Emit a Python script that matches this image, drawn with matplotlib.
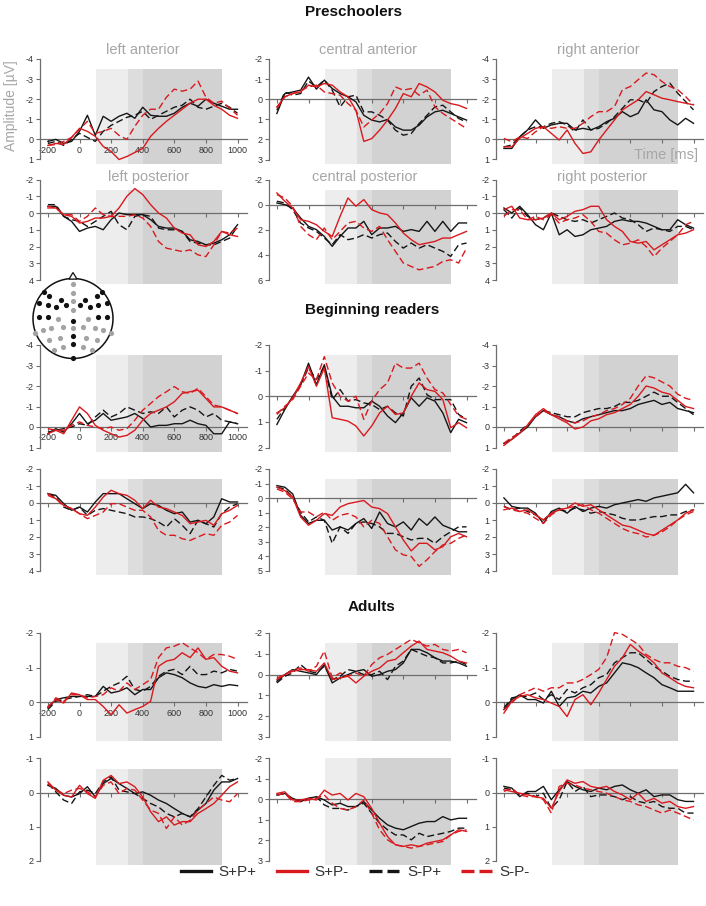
import matplotlib
matplotlib.use('Agg')
import matplotlib.pyplot as plt
from matplotlib.lines import Line2D
from matplotlib.patches import Circle, Polygon

plt.rcParams['font.family'] = ['Liberation Sans', 'DejaVu Sans']
plt.rcParams['axes.unicode_minus'] = False

# ---------------- data ----------------
time_ms = [-200, -150, -100, -50, 0, 50, 100, 150, 200, 250, 300, 350, 400,
           450, 500, 550, 600, 650, 700, 750, 800, 850, 900, 950, 1000]
conditions = ['S+P+', 'S+P-', 'S-P+', 'S-P-']
groups = ['Preschoolers', 'Beginning readers', 'Adults']
regions = ['left anterior', 'central anterior', 'right anterior',
           'left posterior', 'central posterior', 'right posterior']
x_tick_vals = [-200, 0, 200, 400, 600, 800, 1000]
window_ms = [105, 305, 400, 903]

# Preschoolers
pre_left_ant = {
    'S+P+': [0.1, 0.0, 0.2, 0.1, -0.4, -1.2, -0.2, -1.15, -0.9, -1.15, -1.3, -1.05, -1.6, -1.2, -1.15, -1.15, -1.3, -1.6, -1.8, -1.65, -2.0, -1.8, -1.65, -1.5, -1.5],
    'S+P-': [0.3, 0.2, 0.25, -0.1, -0.55, -0.4, -0.15, 0.35, 0.6, 1.0, 0.85, 0.65, 0.45, -0.15, -0.55, -0.9, -1.2, -1.5, -1.8, -2.0, -2.0, -1.7, -1.5, -1.2, -1.05],
    'S-P+': [0.2, 0.1, 0.3, 0.0, -0.3, -0.1, 0.1, -0.4, -0.7, -0.9, -1.1, -1.2, -1.4, -1.0, -1.2, -1.4, -1.6, -1.7, -2.0, -1.6, -1.5, -1.65, -1.8, -1.6, -1.3],
    'S-P-': [0.3, 0.25, 0.1, -0.1, -0.5, -0.9, -0.3, -0.4, -0.55, -0.2, 0.0, -0.65, -1.2, -1.5, -1.5, -2.1, -2.5, -2.4, -2.5, -2.9, -2.1, -1.8, -1.9, -1.55, -1.2],
}
pre_central_ant = {
    'S+P+': [0.71, -0.28, -0.36, -0.45, -1.1, -0.5, -0.95, -0.53, -0.28, -0.12, 0.13, 0.8, 1.04, 1.13, 1.01, 1.38, 1.54, 1.54, 1.29, 0.88, 0.63, 0.55, 0.71, 0.88, 1.04],
    'S+P-': [0.38, -0.12, -0.28, -0.36, -0.7, -0.61, -0.78, -0.7, -0.36, -0.12, 0.55, 2.1, 1.96, 1.54, 1.04, 0.46, -0.28, -0.12, -0.78, -0.61, -0.36, 0.05, 0.22, 0.3, 0.46],
    'S-P+': [0.55, -0.36, -0.2, -0.28, -0.9, -0.61, -0.95, -0.45, 0.38, -0.12, -0.2, 0.63, 0.63, 0.8, 1.04, 1.54, 1.79, 1.71, 1.21, 0.8, 0.38, 0.3, 0.63, 0.96, 1.13],
    'S-P-': [0.46, -0.12, -0.28, -0.45, -0.61, -0.7, -0.36, -0.28, -0.2, 0.22, 0.55, 1.38, 1.04, 0.71, 0.22, -0.61, -0.45, -0.53, -0.2, -0.45, 0.38, 0.71, 0.96, 1.21, 1.46],
}
pre_right_ant = {
    'S+P+': [0.45, 0.45, -0.13, -0.47, -0.97, -0.55, -0.72, -0.8, -0.8, -0.47, -0.55, -0.47, -0.63, -0.88, -1.05, -1.38, -1.13, -1.3, -1.97, -1.47, -1.38, -0.97, -0.72, -1.05, -0.8],
    'S+P-': [0.37, 0.37, -0.05, -0.3, -0.55, -0.63, -0.3, 0.03, -0.47, 0.2, 0.7, 0.62, 0.03, -0.47, -0.97, -1.47, -1.72, -1.97, -2.38, -2.22, -2.05, -1.97, -1.88, -1.8, -1.72],
    'S-P+': [0.37, 0.28, -0.13, -0.47, -0.63, -0.63, -0.8, -0.88, -0.72, -0.38, -0.97, -0.47, -0.55, -0.8, -1.13, -1.55, -1.97, -1.97, -1.8, -2.38, -2.63, -2.8, -2.3, -1.88, -1.47],
    'S-P-': [-0.05, 0.12, -0.13, -0.05, -0.38, -0.63, -0.55, -0.63, -0.55, -0.55, -0.8, -1.13, -1.38, -1.38, -1.63, -2.47, -2.63, -2.97, -3.3, -3.22, -2.88, -2.63, -2.47, -2.13, -1.72],
}
pre_left_post = {
    'S+P+': [-0.4, -0.4, 0.2, 0.5, 1.1, 0.9, 0.8, 1.0, 0.4, 0.0, 0.1, 0.1, 0.1, 0.4, 0.8, 0.9, 0.9, 1.1, 1.6, 1.7, 1.9, 1.8, 1.6, 1.3, 0.7],
    'S+P-': [-0.3, -0.3, 0.1, 0.2, 0.6, 0.5, 0.3, 0.3, 0.2, -0.3, -1.0, -1.46, -1.1, -0.5, 0.0, 0.3, 0.9, 1.2, 1.3, 1.9, 2.0, 1.7, 1.1, 1.3, 1.4],
    'S-P+': [-0.5, -0.5, 0.2, 0.4, 0.5, 0.8, 0.5, 0.2, -0.1, 0.7, 1.0, 0.2, 0.1, 0.2, 0.9, 1.0, 1.0, 1.1, 1.7, 1.8, 1.9, 1.9, 1.7, 1.5, 0.8],
    'S-P-': [-0.4, -0.3, 0.1, 0.1, 0.5, 0.2, -0.3, 0.1, 0.2, 0.2, 0.2, 0.1, 0.3, 0.8, 1.7, 2.1, 2.2, 2.3, 2.2, 2.5, 2.6, 1.9, 1.1, 1.2, 0.9],
}
pre_central_post = {
    'S+P+': [-0.13, 0.0, 0.27, 1.06, 1.73, 1.99, 2.53, 3.32, 2.53, 1.86, 1.86, 1.33, 2.39, 1.86, 1.86, 1.73, 2.13, 1.99, 2.13, 1.33, 2.13, 1.33, 2.13, 1.46, 1.46],
    'S+P-': [-0.93, -0.27, 0.27, 1.2, 1.33, 1.6, 2.13, 2.53, 0.93, -0.53, 0.13, -0.4, 0.4, 0.66, 0.8, 1.46, 2.26, 2.79, 3.19, 3.06, 2.93, 2.66, 2.66, 2.39, 2.13],
    'S-P+': [-0.27, -0.13, 0.4, 1.46, 1.86, 2.13, 2.66, 3.19, 2.39, 2.79, 2.66, 2.39, 2.66, 2.39, 2.26, 2.93, 3.46, 3.06, 3.46, 3.19, 3.46, 3.72, 4.12, 3.19, 3.06],
    'S-P-': [-0.8, -0.53, 0.13, 1.73, 2.39, 2.79, 1.86, 2.79, 2.13, 1.46, 1.33, 1.86, 2.13, 1.73, 2.79, 3.72, 4.65, 4.92, 5.19, 5.05, 4.92, 4.52, 4.39, 4.65, 3.46],
}
pre_right_post = {
    'S+P+': [-0.3, 0.0, -0.4, 0.1, 0.7, 1.0, 0.0, 1.3, 1.0, 1.4, 1.3, 1.0, 0.9, 0.8, 0.5, 0.4, 0.5, 0.5, 0.6, 0.8, 1.0, 1.0, 0.4, 0.7, 0.9],
    'S+P-': [-0.2, -0.4, 0.3, 0.4, 0.4, 0.3, 0.0, 0.4, 0.2, -0.1, -0.2, -0.4, -0.4, 0.4, 0.8, 1.1, 1.7, 1.8, 1.7, 2.2, 1.9, 1.6, 1.3, 1.2, 1.0],
    'S-P+': [-0.2, 0.3, -0.3, 0.2, 0.4, 0.3, 0.0, 0.2, 0.4, 0.5, 0.4, 0.6, 0.4, 0.2, 0.0, 0.3, 0.4, 0.7, 1.1, 0.9, 1.0, 1.1, 0.8, 0.8, 1.0],
    'S-P-': [0.2, -0.2, -0.2, 0.4, 0.2, 0.4, 0.1, 0.6, 0.4, 0.3, 0.1, 0.5, 1.1, 1.2, 1.6, 1.9, 1.8, 1.6, 2.0, 2.6, 2.1, 1.7, 1.3, 0.7, 0.5],
}

# Beginning readers
beg_left_ant = {
    'S+P+': [0.33, 0.08, 0.25, -0.16, -0.66, -0.16, -0.33, -0.66, -0.33, -0.41, -0.49, -0.66, -0.41, 0.0, -0.08, -0.08, -0.16, -0.16, -0.33, -0.16, -0.08, 0.33, 0.33, -0.25, -0.16],
    'S+P-': [0.33, 0.16, 0.33, -0.33, -0.98, -0.66, -0.08, 0.16, 0.33, 0.49, 0.41, 0.16, -0.33, -0.66, -0.82, -0.98, -1.23, -1.64, -1.72, -1.8, -1.39, -0.98, -0.98, -0.82, -0.66],
    'S-P+': [0.25, 0.16, 0.08, 0.0, -0.16, -0.08, -0.49, -0.82, -0.49, -0.66, -0.98, -0.82, -0.66, -0.74, -0.66, -0.98, -0.49, -0.82, -0.98, -0.82, -0.49, -0.66, -0.33, -0.25, -0.16],
    'S-P-': [0.08, 0.16, 0.16, -0.08, -0.25, -0.08, 0.0, 0.08, 0.0, 0.16, 0.08, -0.33, -0.82, -1.15, -1.48, -1.72, -1.97, -1.72, -1.64, -1.89, -1.48, -1.07, -0.98, -0.82, -0.66],
}
beg_central_ant = {
    'S+P+': [1.1, 0.52, 0.0, -0.45, -1.29, -0.45, -1.23, 0.0, 0.39, 0.39, 0.45, 0.45, 0.19, 0.39, 0.77, 1.03, 0.65, 0.06, 0.39, 0.06, 0.19, 0.65, 1.42, 0.9, 1.03],
    'S+P-': [0.65, 0.45, 0.06, -0.52, -1.16, -0.39, -1.1, 0.84, 0.9, 0.97, 1.16, 1.55, 1.16, 0.65, 0.39, 0.71, 0.65, 0.0, -0.52, -0.26, -0.19, 0.13, 1.23, 1.03, 1.23],
    'S-P+': [0.9, 0.45, 0.06, -0.45, -1.1, -0.65, -1.16, 0.13, -0.26, 0.19, 0.13, 0.26, 0.32, 0.52, 0.39, 0.65, 0.77, -0.39, -0.71, -0.06, 0.13, 0.13, 0.13, 0.71, 0.9],
    'S-P-': [0.71, 0.39, 0.13, -0.39, -0.9, -0.65, -1.55, -0.52, 0.0, 0.19, 0.0, 0.9, 0.19, -0.26, -0.52, -1.29, -1.1, -1.1, -1.29, -0.71, -0.26, -0.13, 0.32, 0.77, 0.9],
}
beg_right_ant = {
    'S+P+': [0.8, 0.6, 0.3, 0.0, -0.5, -0.8, -0.6, -0.5, -0.3, -0.2, -0.4, -0.5, -0.6, -0.7, -0.8, -0.8, -0.9, -1.1, -1.2, -1.3, -1.1, -1.2, -0.9, -0.8, -0.7],
    'S+P-': [0.9, 0.6, 0.3, -0.1, -0.6, -0.9, -0.6, -0.4, -0.2, 0.1, 0.0, -0.3, -0.4, -0.6, -0.7, -0.9, -1.1, -1.5, -2.0, -1.9, -1.7, -1.6, -1.3, -1.0, -0.9],
    'S-P+': [0.8, 0.6, 0.2, -0.1, -0.5, -0.8, -0.7, -0.6, -0.5, -0.5, -0.7, -0.8, -0.9, -0.9, -1.0, -1.2, -1.2, -1.3, -1.5, -1.7, -1.5, -1.5, -1.2, -0.9, -0.6],
    'S-P-': [0.8, 0.5, 0.3, -0.1, -0.5, -0.8, -0.6, -0.5, -0.3, -0.2, -0.3, -0.5, -0.6, -0.8, -0.9, -1.1, -1.4, -2.0, -2.5, -2.4, -2.2, -2.0, -1.6, -1.4, -1.3],
}
beg_left_post = {
    'S+P+': [-0.55, -0.45, 0.04, 0.43, 0.24, 0.53, -0.06, -0.55, -0.55, -0.55, -0.25, 0.04, 0.33, 0.04, 0.14, 0.43, 0.63, 0.53, 1.12, 1.02, 1.22, 0.82, -0.25, -0.06, -0.06],
    'S+P-': [-0.55, -0.25, 0.14, 0.33, 0.63, 0.73, 0.24, -0.35, -0.75, -0.55, -0.45, -0.16, 0.33, -0.16, 0.24, 0.33, 0.53, 0.73, 1.22, 1.12, 1.02, 1.31, 0.63, 0.43, 0.14],
    'S-P+': [-0.55, -0.35, 0.24, 0.43, 0.24, 0.73, 0.43, 0.33, 0.43, 0.53, 0.63, 0.82, 0.82, 0.92, 1.12, 1.41, 0.92, 1.31, 1.8, 1.02, 1.22, 1.41, 0.63, 0.24, 0.04],
    'S-P-': [-0.45, -0.25, 0.14, 0.33, 0.63, 0.92, 0.73, 0.53, 0.04, 0.04, 0.24, 0.43, 0.43, 0.82, 1.61, 1.9, 1.9, 2.1, 2.2, 2.0, 1.8, 1.9, 1.31, 1.12, 0.73],
}
beg_central_post = {
    'S+P+': [-0.86, -0.75, -0.29, 1.18, 1.74, 1.52, 1.52, 2.19, 1.97, 2.19, 1.74, 1.4, 2.08, 0.95, 1.74, 1.97, 1.63, 2.19, 1.4, 1.86, 1.29, 1.86, 2.08, 2.31, 2.31],
    'S+P-': [-0.75, -0.52, -0.07, 1.29, 1.86, 1.52, 1.06, 1.18, 0.61, 0.38, 0.27, 0.16, 0.61, 0.72, 1.06, 1.97, 2.87, 3.62, 3.1, 3.1, 3.55, 3.33, 2.65, 2.42, 2.65],
    'S-P+': [-0.75, -0.63, -0.07, 0.95, 1.63, 1.29, 1.52, 3.1, 1.97, 2.42, 1.74, 1.63, 1.74, 1.97, 2.42, 2.42, 2.65, 2.87, 2.76, 2.76, 3.1, 2.65, 2.31, 1.97, 1.97],
    'S-P-': [-0.63, -0.41, 0.05, 0.95, 0.95, 1.29, 0.95, 1.52, 1.18, 1.06, 1.29, 1.97, 1.52, 1.74, 2.65, 3.55, 3.89, 4.0, 4.68, 4.23, 3.67, 3.21, 3.1, 2.76, 2.53],
}
beg_right_post = {
    'S+P+': [-0.3, 0.2, 0.3, 0.3, 0.6, 1.2, 0.5, 0.3, 0.6, 0.2, 0.5, 0.3, 0.2, 0.3, 0.1, 0.0, -0.1, -0.2, -0.1, -0.3, -0.4, -0.5, -0.6, -1.1, -0.6],
    'S+P-': [0.4, 0.3, 0.5, 0.4, 0.7, 1.0, 0.6, 0.4, 0.3, 0.0, 0.2, 0.1, 0.4, 0.7, 1.0, 1.3, 1.4, 1.6, 1.8, 1.9, 1.6, 1.3, 1.0, 0.6, 0.4],
    'S-P+': [0.2, 0.4, 0.3, 0.5, 0.7, 1.0, 0.6, 0.4, 0.5, 0.3, 0.4, 0.6, 0.5, 0.6, 0.7, 0.9, 1.0, 1.0, 0.9, 0.8, 0.8, 0.7, 0.7, 0.5, 0.4],
    'S-P-': [0.2, 0.4, 0.5, 0.6, 0.9, 1.2, 0.7, 0.4, 0.3, 0.2, 0.1, 0.4, 0.6, 0.9, 1.2, 1.5, 1.7, 1.8, 2.0, 1.9, 1.7, 1.4, 1.0, 0.7, 0.5],
}

# Adults
adu_left_ant = {
    'S+P+': [0.16, -0.08, -0.13, -0.17, -0.17, -0.17, -0.17, -0.46, -0.27, -0.32, -0.42, -0.22, -0.37, -0.37, -0.71, -0.85, -0.8, -0.71, -0.56, -0.46, -0.42, -0.51, -0.46, -0.51, -0.48],
    'S+P-': [0.12, -0.08, 0.02, -0.27, -0.22, -0.08, -0.08, 0.12, 0.36, 0.07, 0.31, 0.21, 0.12, -0.03, -1.04, -1.19, -1.24, -1.43, -1.29, -1.57, -1.24, -1.29, -1.04, -0.9, -0.85],
    'S-P+': [0.21, -0.03, -0.08, -0.13, -0.17, -0.22, -0.17, -0.32, -0.46, -0.56, -0.75, -0.37, -0.32, -0.46, -0.75, -0.9, -0.95, -0.8, -1.04, -0.8, -0.8, -0.9, -0.85, -0.95, -0.9],
    'S-P-': [0.16, -0.13, -0.03, -0.22, -0.22, -0.13, -0.17, -0.22, -0.42, -0.32, -0.56, -0.37, -0.51, -0.66, -1.29, -1.57, -1.62, -1.72, -1.57, -1.43, -1.24, -1.38, -1.38, -1.33, -1.24],
}
adu_central_ant = {
    'S+P+': [0.32, 0.0, -0.24, -0.16, -0.08, 0.0, -0.48, 0.4, 0.16, 0.0, -0.16, -0.24, 0.08, 0.0, -0.16, -0.24, -0.56, -1.21, -1.21, -1.05, -0.81, -0.65, -0.65, -0.56, -0.4],
    'S+P-': [0.24, 0.0, -0.16, -0.24, -0.24, -0.16, -0.56, 0.24, 0.16, 0.08, 0.4, 0.08, -0.16, -0.32, -0.65, -0.73, -1.05, -1.37, -1.61, -1.21, -1.13, -1.05, -0.89, -0.65, -0.56],
    'S-P+': [0.4, 0.08, -0.08, -0.48, -0.16, -0.08, -0.4, 0.24, 0.08, -0.24, -0.16, 0.0, 0.0, -0.16, 0.24, -0.4, -0.65, -1.21, -1.05, -0.89, -0.81, -0.56, -0.56, -0.65, -0.48],
    'S-P-': [0.16, 0.0, -0.24, -0.32, -0.16, -0.4, -1.13, 0.16, -0.08, 0.08, -0.08, 0.08, -0.48, -0.81, -0.97, -1.21, -1.45, -1.69, -1.53, -1.37, -1.45, -1.21, -1.13, -1.21, -1.05],
}
adu_right_ant = {
    'S+P+': [0.21, -0.08, -0.22, -0.08, -0.08, 0.02, -0.32, 0.12, -0.13, -0.17, -0.32, -0.27, -0.46, -0.56, -0.85, -1.14, -1.09, -1.0, -0.85, -0.71, -0.51, -0.42, -0.32, -0.32, -0.32],
    'S+P-': [0.31, -0.03, -0.17, -0.22, -0.13, -0.08, 0.02, 0.12, 0.41, -0.08, -0.22, 0.07, -0.27, -0.66, -1.04, -1.29, -1.67, -1.48, -1.33, -1.14, -0.85, -0.71, -0.56, -0.46, -0.42],
    'S-P+': [0.16, -0.13, -0.17, -0.17, -0.27, -0.08, -0.22, -0.08, -0.37, -0.27, -0.42, -0.51, -0.71, -0.8, -1.14, -1.29, -1.43, -1.43, -1.24, -1.04, -0.9, -0.75, -0.66, -0.61, -0.61],
    'S-P-': [0.21, 0.02, -0.22, -0.32, -0.42, -0.32, -0.42, -0.42, -0.56, -0.56, -0.66, -0.8, -0.95, -1.29, -2.01, -1.96, -1.82, -1.67, -1.38, -1.24, -1.14, -1.14, -1.04, -1.0, -0.9],
}
adu_left_post = {
    'S+P+': [-0.21, -0.12, 0.08, 0.13, 0.03, -0.17, 0.13, -0.26, -0.41, -0.26, -0.12, 0.03, -0.02, 0.08, 0.22, 0.32, 0.47, 0.61, 0.71, 0.51, 0.32, -0.07, -0.31, -0.31, -0.41],
    'S+P-': [-0.31, -0.07, 0.08, 0.13, -0.21, 0.03, 0.17, -0.36, -0.5, -0.26, -0.31, -0.17, 0.13, 0.56, 0.85, 0.71, 0.95, 0.85, 0.85, 0.61, 0.47, 0.32, 0.08, -0.17, -0.31],
    'S-P+': [-0.26, -0.02, 0.22, 0.32, -0.02, -0.07, 0.03, -0.31, -0.46, -0.07, -0.02, 0.03, 0.17, 0.32, 0.42, 0.61, 0.71, 0.61, 0.71, 0.47, 0.13, -0.21, -0.5, -0.36, -0.41],
    'S-P-': [-0.26, -0.07, 0.03, -0.07, -0.12, -0.02, 0.13, -0.21, -0.31, 0.03, -0.12, -0.07, 0.22, 0.51, 0.61, 1.05, 0.71, 0.95, 0.81, 0.51, 0.32, 0.13, 0.22, 0.27, 0.03],
}
adu_central_post = {
    'S+P+': [-0.21, -0.29, -0.05, 0.11, -0.05, -0.13, 0.03, 0.27, 0.19, 0.35, 0.35, 0.11, 0.52, 0.92, 1.24, 1.4, 1.48, 1.32, 1.16, 1.08, 1.08, 0.84, 1.0, 0.92, 0.92],
    'S+P-': [-0.29, -0.37, 0.03, 0.03, -0.05, 0.03, -0.45, -0.21, -0.29, 0.03, -0.29, -0.13, 0.44, 1.16, 1.81, 2.21, 2.29, 2.21, 2.29, 2.13, 2.05, 1.97, 1.73, 1.48, 1.56],
    'S-P+': [-0.21, -0.29, 0.03, 0.03, -0.05, -0.13, 0.27, 0.44, 0.44, 0.52, 0.35, 0.19, 0.68, 1.16, 1.48, 1.73, 1.73, 1.97, 1.65, 1.81, 1.73, 1.65, 1.56, 1.4, 1.4],
    'S-P-': [-0.21, -0.29, 0.11, 0.11, 0.03, -0.05, -0.21, 0.19, 0.44, 0.52, 0.35, 0.03, 0.68, 1.48, 1.97, 2.21, 2.29, 2.37, 2.29, 2.21, 2.13, 2.05, 1.73, 1.56, 1.48],
}
adu_right_post = {
    'S+P+': [-0.18, -0.13, 0.12, -0.03, -0.03, -0.18, 0.21, -0.08, -0.32, -0.18, -0.08, -0.03, -0.13, -0.08, -0.18, -0.22, -0.08, 0.02, -0.08, 0.12, 0.07, 0.07, 0.21, 0.26, 0.26],
    'S+P-': [-0.08, -0.03, 0.02, 0.07, 0.12, 0.17, 0.46, -0.03, -0.37, -0.27, -0.32, -0.18, -0.13, -0.18, -0.03, 0.07, 0.21, 0.02, 0.26, 0.17, 0.31, 0.26, 0.41, 0.46, 0.41],
    'S-P+': [-0.13, -0.08, 0.07, 0.02, 0.12, 0.02, 0.46, 0.21, -0.32, -0.03, -0.18, 0.12, 0.07, 0.07, 0.12, 0.21, 0.12, 0.26, 0.31, 0.26, 0.41, 0.46, 0.46, 0.6, 0.6],
    'S-P-': [-0.03, -0.13, 0.07, 0.12, 0.12, 0.21, 0.6, -0.18, -0.27, -0.22, -0.13, -0.08, -0.03, 0.02, 0.12, 0.21, 0.26, 0.36, 0.41, 0.51, 0.6, 0.51, 0.6, 0.7, 0.8],
}

# y ranges (top, bottom, step) per row/column
y_ranges = [
    [(-4, 1, 1), (-2, 3, 1), (-4, 1, 1)],
    [(-2, 4, 1), (-2, 6, 2), (-2, 4, 1)],
    [(-4, 1, 1), (-2, 2, 1), (-4, 1, 1)],
    [(-2, 4, 1), (-2, 5, 1), (-2, 4, 1)],
    [(-2, 1, 1), (-2, 3, 1), (-2, 1, 1)],
    [(-1, 2, 1), (-2, 3, 1), (-1, 2, 1)],
]
panel_data = [
    [pre_left_ant, pre_central_ant, pre_right_ant],
    [pre_left_post, pre_central_post, pre_right_post],
    [beg_left_ant, beg_central_ant, beg_right_ant],
    [beg_left_post, beg_central_post, beg_right_post],
    [adu_left_ant, adu_central_ant, adu_right_ant],
    [adu_left_post, adu_central_post, adu_right_post],
]

# ---------------- styling / layout ----------------
W, H = 706, 906
fig = plt.figure(figsize=(W / 100, H / 100), dpi=100)
fig.patch.set_facecolor('white')

col_px = [(40, 247), (269, 476), (496, 703)]
row_px = [(59, 159.5), (179.5, 280), (345, 447.5), (469, 571), (633, 737), (758.3, 861)]

BLACK = '#151515'
RED = '#d9191e'
styles = {
    'S+P+': dict(color=BLACK, ls='-'),
    'S-P+': dict(color=BLACK, ls=(0, (5, 2.5))),
    'S+P-': dict(color=RED, ls='-'),
    'S-P-': dict(color=RED, ls=(0, (5, 2.5))),
}
draw_order = ['S+P+', 'S-P+', 'S+P-', 'S-P-']
shade_colors = ['#ededed', '#dddddd', '#d2d2d2']
AX_GRAY = '#6e6e6e'
TXT = '#333333'
TITLE_GRAY = '#a6a6a6'

for r in range(6):
    for c in range(3):
        x0, x1 = col_px[c]
        y0, y1 = row_px[r]
        ax = fig.add_axes([x0 / W, 1 - y1 / H, (x1 - x0) / W, (y1 - y0) / H])
        ax.patch.set_alpha(0)
        top, bot, step = y_ranges[r][c]
        ax.set_xlim(-250, 1060)
        ax.set_ylim(bot, top)
        shade_top = 1.0 if (r == 5 and c == 1) else 0.9
        for k in range(3):
            ax.axvspan(window_ms[k], window_ms[k + 1], ymin=-0.04, ymax=shade_top,
                       color=shade_colors[k], lw=0, zorder=0, clip_on=False)
        d = panel_data[r][c]
        for cond in draw_order:
            ax.plot(time_ms, d[cond], lw=1.0, zorder=3, clip_on=False, **styles[cond])
        for s in ['top', 'right']:
            ax.spines[s].set_visible(False)
        ax.spines['left'].set_color(AX_GRAY)
        ax.spines['left'].set_linewidth(0.9)
        ax.spines['bottom'].set_position(('data', 0))
        ax.spines['bottom'].set_color(AX_GRAY)
        ax.spines['bottom'].set_linewidth(0.9)
        ax.set_yticks(list(range(top, bot + 1, step)))
        ax.set_xticks(x_tick_vals)
        ax.tick_params(axis='y', direction='out', length=3, width=0.8, color=AX_GRAY,
                       labelsize=6.5, labelcolor=TXT, pad=1.5)
        show_x = (c == 0 and r in (0, 2, 4))
        ax.tick_params(axis='x', direction='out', length=3, width=0.8, color=AX_GRAY,
                       labelsize=6.5, labelcolor=TXT, pad=1.5, labelbottom=show_x)

# panel titles (Preschoolers only)
title_pos = [(143, 50), (368, 50), (598, 50), (148, 177), (365, 177), (602, 177)]
for name, (tx, ty) in zip(regions, title_pos):
    fig.text(tx / W, 1 - ty / H, name, ha='center', va='center', fontsize=10.5, color=TITLE_GRAY)

# group titles
group_pos = [(354, 12), (372, 310), (372, 607)]
for name, (gx, gy) in zip(groups, group_pos):
    fig.text(gx / W, 1 - gy / H, name, ha='center', va='center', fontsize=11,
             fontweight='bold', color='#111111')

fig.text(11.5 / W, 1 - 106 / H, 'Amplitude [µV]', rotation=90, ha='center', va='center',
         fontsize=10, color=TITLE_GRAY)
fig.text(698 / W, 1 - 155 / H, 'Time [ms]', ha='right', va='center', fontsize=10.5,
         color=TITLE_GRAY)

# electrode montage schematic
hx = fig.add_axes([25 / W, 1 - 366.5 / H, 96 / W, 96 / H])
hx.set_xlim(-1.2, 1.2)
hx.set_ylim(-1.2, 1.2)
hx.set_aspect('equal')
hx.axis('off')
hx.add_patch(Circle((0, 0), 1.0, fill=False, ec='#111111', lw=1.1))
hx.add_patch(Polygon([[-0.1, 0.985], [0.1, 0.985], [0, 1.15]], closed=True, fc='white',
                     ec='#111111', lw=0.9))
side_black = [(-0.73, 0.66), (-0.61, 0.56), (-0.86, 0.40), (-0.62, 0.33), (-0.31, 0.46),
              (-0.43, 0.30), (-0.18, 0.34), (-0.84, 0.03), (-0.62, 0.03)]
side_gray = [(-0.37, -0.02), (-0.95, -0.36), (-0.74, -0.28), (-0.56, -0.24), (-0.25, -0.22),
             (-0.59, -0.54), (-0.32, -0.48), (-0.48, -0.78), (-0.24, -0.72)]
mid_gray = [(0, 0.87), (0, 0.64), (0, 0.43), (0, 0.21), (0, -0.24)]
mid_black = [(0, -0.05), (0, -0.43), (0, -0.64), (0, -0.98)]
blk = side_black + [(-x, y) for x, y in side_black] + mid_black
gry = side_gray + [(-x, y) for x, y in side_gray] + mid_gray
hx.scatter([p[0] for p in gry], [p[1] for p in gry], s=14, c='#a3a3a3', lw=0, zorder=3)
hx.scatter([p[0] for p in blk], [p[1] for p in blk], s=14, c='#111111', lw=0, zorder=3)

# legend
handles = [
    Line2D([], [], color=BLACK, lw=2.4, ls='-'),
    Line2D([], [], color=RED, lw=2.4, ls='-'),
    Line2D([], [], color=BLACK, lw=2.4, ls=(0, (3.9, 1.5))),
    Line2D([], [], color=RED, lw=2.4, ls=(0, (3.9, 1.5))),
]
fig.legend(handles, conditions, loc='center', bbox_to_anchor=(355 / W, 1 - 872 / H), ncol=4,
           frameon=False, fontsize=11, handlelength=2.0, handletextpad=0.5, columnspacing=1.3,
           labelcolor=TXT)

fig.savefig('out.png', dpi=100, facecolor='white')
